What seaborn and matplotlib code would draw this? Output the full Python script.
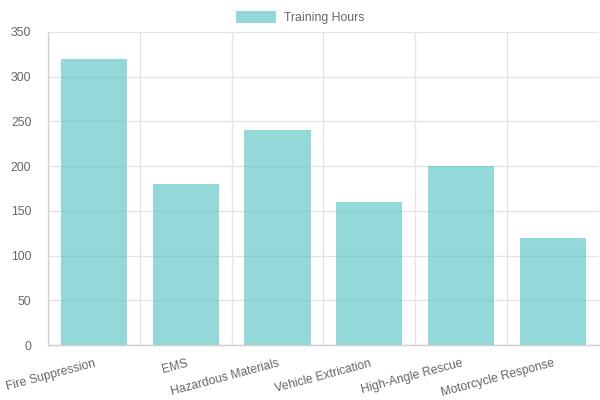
import numpy as np
import pandas as pd
import seaborn as sns
from matplotlib import pyplot as plt
from matplotlib.patches import Patch

categories = ['Fire Suppression', 'EMS', 'Hazardous Materials', 'Vehicle Extrication',
              'High-Angle Rescue', 'Motorcycle Response']
hours = [320, 180, 240, 160, 200, 120]
y_ticks = [0, 50, 100, 150, 200, 250, 300, 350]

df = pd.DataFrame({'Training': categories, 'Training Hours': hours})

sns.set_theme(style='white')
plt.rcParams['font.family'] = ['Liberation Sans', 'DejaVu Sans']

fill = (75 / 255, 192 / 255, 192 / 255, 0.6)
grid_col = '#e5e5e5'
text_col = '#666666'

fig = plt.figure(figsize=(6, 4), dpi=100)
ax = fig.add_axes([0.08, 0.1375, 0.918, 0.7825])

sns.barplot(data=df, x='Training', y='Training Hours', color=fill, width=0.72,
            linewidth=0, saturation=1, ax=ax)
for p in ax.patches:
    p.set_facecolor(fill)
    p.set_edgecolor('none')

ax.set_xlim(-0.5, len(categories) - 0.5)
ax.set_ylim(0, 350)
ax.set_yticks(y_ticks)
ax.set_xlabel('')
ax.set_ylabel('')

# grid lines sit between categories, like the offset grid of the original
ax.set_xticks(np.arange(-0.5, len(categories), 1), minor=True)
ax.grid(True, which='minor', axis='x', color=grid_col, linewidth=1)
ax.grid(True, which='major', axis='y', color=grid_col, linewidth=1)
ax.set_axisbelow(True)

ax.tick_params(axis='x', which='major', length=0, pad=9, labelsize=8.7, labelcolor=text_col)
ax.tick_params(axis='x', which='minor', length=7, color=grid_col, width=1)
ax.tick_params(axis='y', length=8, color=grid_col, width=1, labelsize=8.8, labelcolor=text_col, pad=4)
ax.set_xticks(range(len(categories)))
ax.set_xticklabels(categories, rotation=15, ha='right', rotation_mode='anchor')

for side in ['top', 'right']:
    ax.spines[side].set_visible(False)
for side in ['left', 'bottom']:
    ax.spines[side].set_color('#d0d0d0')
    ax.spines[side].set_linewidth(1)

handle = Patch(facecolor=fill, edgecolor='none')
fig.legend([handle], ['Training Hours'], loc='upper center', bbox_to_anchor=(0.5, 1.0),
           frameon=False, fontsize=8.8, labelcolor=text_col, handlelength=3.3, handleheight=1.1,
           handletextpad=0.6)

fig.savefig('out.png', dpi=100)
